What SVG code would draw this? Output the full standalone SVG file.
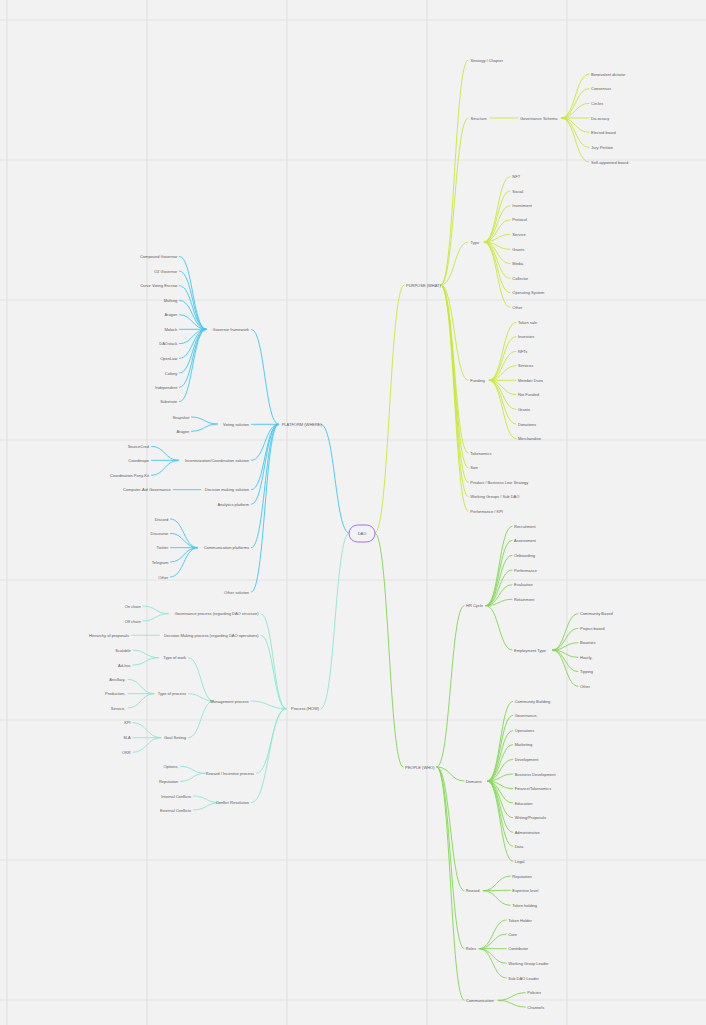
<svg xmlns="http://www.w3.org/2000/svg" width="706" height="1025" viewBox="0 0 706 1025">
<style>
.t{font-family:"Liberation Sans",Arial,sans-serif;font-size:4px;fill:#5a5a5a;dominant-baseline:central}
.e{text-anchor:end}
.grid{stroke:#e1e1e1;stroke-width:1.2}
.cn path{fill:none;stroke-width:0.9;stroke-linecap:round}
.p path{stroke:#c6e934}
.g path{stroke:#7cd94b}
.c path{stroke:#3cc6f5}
.m path{stroke:#86e9d2}
</style>
<rect width="706" height="1025" fill="#f2f2f2"/>
<g id="grid" class="grid">
<line x1="7" y1="0" x2="7" y2="1025"/><line x1="147" y1="0" x2="147" y2="1025"/><line x1="287" y1="0" x2="287" y2="1025"/><line x1="427" y1="0" x2="427" y2="1025"/><line x1="567" y1="0" x2="567" y2="1025"/>
<line x1="0" y1="20" x2="706" y2="20"/><line x1="0" y1="160" x2="706" y2="160"/><line x1="0" y1="300" x2="706" y2="300"/><line x1="0" y1="440" x2="706" y2="440"/><line x1="0" y1="580" x2="706" y2="580"/><line x1="0" y1="720" x2="706" y2="720"/><line x1="0" y1="860" x2="706" y2="860"/><line x1="0" y1="1000" x2="706" y2="1000"/>
</g>
<g id="connectors" class="cn">
<g class="p">
<path d="M375 533C389.5 533 389.5 285 404 285"/>
<path d="M441 285C454.5 285 454.5 60 468 60"/>
<path d="M441 285C454.5 285 454.5 118 468 118"/>
<path d="M441 285C454.5 285 454.5 242 468 242"/>
<path d="M441 285C454.5 285 454.5 380.3 468 380.3"/>
<path d="M441 285C454.5 285 454.5 453 468 453"/>
<path d="M441 285C454.5 285 454.5 467.7 468 467.7"/>
<path d="M441 285C454.5 285 454.5 482.3 468 482.3"/>
<path d="M441 285C454.5 285 454.5 496.7 468 496.7"/>
<path d="M441 285C454.5 285 454.5 511.3 468 511.3"/>
<path d="M490 118H518"/>
<path d="M561.7 118C575.3 118 575.3 74 589 74"/>
<path d="M561.7 118C575.3 118 575.3 88.7 589 88.7"/>
<path d="M561.7 118C575.3 118 575.3 103.3 589 103.3"/>
<path d="M561.7 118H589"/>
<path d="M561.7 118C575.3 118 575.3 132.3 589 132.3"/>
<path d="M561.7 118C575.3 118 575.3 147.3 589 147.3"/>
<path d="M561.7 118C575.3 118 575.3 162 589 162"/>
<path d="M484.3 242C497.2 242 497.2 176.7 510 176.7"/>
<path d="M484.3 242C497.2 242 497.2 191 510 191"/>
<path d="M484.3 242C497.2 242 497.2 205.7 510 205.7"/>
<path d="M484.3 242C497.2 242 497.2 219.7 510 219.7"/>
<path d="M484.3 242C497.2 242 497.2 234.3 510 234.3"/>
<path d="M484.3 242C497.2 242 497.2 249.3 510 249.3"/>
<path d="M484.3 242C497.2 242 497.2 263.7 510 263.7"/>
<path d="M484.3 242C497.2 242 497.2 278.3 510 278.3"/>
<path d="M484.3 242C497.2 242 497.2 292.7 510 292.7"/>
<path d="M484.3 242C497.2 242 497.2 307.3 510 307.3"/>
<path d="M489.3 380.3C502.7 380.3 502.7 322.3 516 322.3"/>
<path d="M489.3 380.3C502.7 380.3 502.7 336.7 516 336.7"/>
<path d="M489.3 380.3C502.7 380.3 502.7 351.3 516 351.3"/>
<path d="M489.3 380.3C502.7 380.3 502.7 365.7 516 365.7"/>
<path d="M489.3 380.3H516"/>
<path d="M489.3 380.3C502.7 380.3 502.7 394.7 516 394.7"/>
<path d="M489.3 380.3C502.7 380.3 502.7 409.3 516 409.3"/>
<path d="M489.3 380.3C502.7 380.3 502.7 424 516 424"/>
<path d="M489.3 380.3C502.7 380.3 502.7 438.7 516 438.7"/>
</g>
<g class="g">
<path d="M375 533C389 533 389 767 403 767"/>
<path d="M437 767C450.5 767 450.5 605.7 464 605.7"/>
<path d="M437 767C450.5 767 450.5 781 464 781"/>
<path d="M437 767C450.5 767 450.5 890.7 464 890.7"/>
<path d="M437 767C450.5 767 450.5 948.7 464 948.7"/>
<path d="M437 767C450.5 767 450.5 1000.3 464 1000.3"/>
<path d="M486 605.7C499 605.7 499 526.3 512 526.3"/>
<path d="M486 605.7C499 605.7 499 540.3 512 540.3"/>
<path d="M486 605.7C499 605.7 499 555.3 512 555.3"/>
<path d="M486 605.7C499 605.7 499 570 512 570"/>
<path d="M486 605.7C499 605.7 499 584.7 512 584.7"/>
<path d="M486 605.7C499 605.7 499 599.3 512 599.3"/>
<path d="M486 605.7C499 605.7 499 650 512 650"/>
<path d="M552.7 650C565.3 650 565.3 613.7 578 613.7"/>
<path d="M552.7 650C565.3 650 565.3 628.3 578 628.3"/>
<path d="M552.7 650C565.3 650 565.3 642.7 578 642.7"/>
<path d="M552.7 650C565.3 650 565.3 657.3 578 657.3"/>
<path d="M552.7 650C565.3 650 565.3 671.7 578 671.7"/>
<path d="M552.7 650C565.3 650 565.3 686.3 578 686.3"/>
<path d="M487.7 781C500.2 781 500.2 701.3 512.7 701.3"/>
<path d="M487.7 781C500.2 781 500.2 715.3 512.7 715.3"/>
<path d="M487.7 781C500.2 781 500.2 730.7 512.7 730.7"/>
<path d="M487.7 781C500.2 781 500.2 744.7 512.7 744.7"/>
<path d="M487.7 781C500.2 781 500.2 759.3 512.7 759.3"/>
<path d="M487.7 781C500.2 781 500.2 774 512.7 774"/>
<path d="M487.7 781C500.2 781 500.2 788.7 512.7 788.7"/>
<path d="M487.7 781C500.2 781 500.2 803 512.7 803"/>
<path d="M487.7 781C500.2 781 500.2 817.7 512.7 817.7"/>
<path d="M487.7 781C500.2 781 500.2 832.3 512.7 832.3"/>
<path d="M487.7 781C500.2 781 500.2 846.3 512.7 846.3"/>
<path d="M487.7 781C500.2 781 500.2 861.3 512.7 861.3"/>
<path d="M483.3 890.7C496.8 890.7 496.8 876 510.3 876"/>
<path d="M483.3 890.7C496.8 890.7 496.8 890.3 510.3 890.3"/>
<path d="M483.3 890.7C496.8 890.7 496.8 905.3 510.3 905.3"/>
<path d="M479.3 948.7C492.8 948.7 492.8 920 506.3 920"/>
<path d="M479.3 948.7C492.8 948.7 492.8 934 506.3 934"/>
<path d="M479.3 948.7H506.3"/>
<path d="M479.3 948.7C492.8 948.7 492.8 963.3 506.3 963.3"/>
<path d="M479.3 948.7C492.8 948.7 492.8 978 506.3 978"/>
<path d="M498.3 1000.3C511.8 1000.3 511.8 992.7 525.3 992.7"/>
<path d="M498.3 1000.3C511.8 1000.3 511.8 1007 525.3 1007"/>
</g>
<g class="c">
<path d="M349 533C335 533 335 424.3 321 424.3"/>
<path d="M278.3 424.3C264.9 424.3 264.9 329.3 251.5 329.3"/>
<path d="M278.3 424.3H251.5"/>
<path d="M278.3 424.3C264.9 424.3 264.9 460.3 251.5 460.3"/>
<path d="M278.3 424.3C264.9 424.3 264.9 489.7 251.5 489.7"/>
<path d="M278.3 424.3C264.9 424.3 264.9 504.3 251.5 504.3"/>
<path d="M278.3 424.3C264.9 424.3 264.9 547.7 251.5 547.7"/>
<path d="M278.3 424.3C264.9 424.3 264.9 592 251.5 592"/>
<path d="M206 329.3C192.7 329.3 192.7 256.3 179.5 256.3"/>
<path d="M206 329.3C192.7 329.3 192.7 271 179.5 271"/>
<path d="M206 329.3C192.7 329.3 192.7 285.7 179.5 285.7"/>
<path d="M206 329.3C192.7 329.3 192.7 300.3 179.5 300.3"/>
<path d="M206 329.3C192.7 329.3 192.7 314.7 179.5 314.7"/>
<path d="M206 329.3H179.5"/>
<path d="M206 329.3C192.7 329.3 192.7 343.7 179.5 343.7"/>
<path d="M206 329.3C192.7 329.3 192.7 358.3 179.5 358.3"/>
<path d="M206 329.3C192.7 329.3 192.7 373 179.5 373"/>
<path d="M206 329.3C192.7 329.3 192.7 387.3 179.5 387.3"/>
<path d="M206 329.3C192.7 329.3 192.7 401.7 179.5 401.7"/>
<path d="M217.3 424C204.4 424 204.4 417 191.5 417"/>
<path d="M217.3 424C204.4 424 204.4 431.3 191.5 431.3"/>
<path d="M178.3 460.3C164.9 460.3 164.9 446.3 151.5 446.3"/>
<path d="M178.3 460.3H151.5"/>
<path d="M178.3 460.3C164.9 460.3 164.9 475.3 151.5 475.3"/>
<path d="M200.7 489.7H173.3"/>
<path d="M197.3 547.7C183.9 547.7 183.9 519 170.5 519"/>
<path d="M197.3 547.7C183.9 547.7 183.9 533.3 170.5 533.3"/>
<path d="M197.3 547.7H170.5"/>
<path d="M197.3 547.7C183.9 547.7 183.9 562 170.5 562"/>
<path d="M197.3 547.7C183.9 547.7 183.9 577 170.5 577"/>
</g>
<g class="m">
<path d="M349 533C335 533 335 708.7 321 708.7"/>
<path d="M286 708.7C273.5 708.7 273.5 613.7 261 613.7"/>
<path d="M286 708.7C273.5 708.7 273.5 635.3 261 635.3"/>
<path d="M286 708.7C268.5 708.7 268.5 701 251 701"/>
<path d="M286 708.7C271.2 708.7 271.2 773.3 256.5 773.3"/>
<path d="M286 708.7C268.8 708.7 268.8 802.7 251.5 802.7"/>
<path d="M168.3 613.7C155.6 613.7 155.6 606 143 606"/>
<path d="M168.3 613.7C155.6 613.7 155.6 621 143 621"/>
<path d="M159.3 635.3H131.5"/>
<path d="M213.3 701C200.9 701 200.9 657.7 188.5 657.7"/>
<path d="M213.3 701C200.9 701 200.9 693.7 188.5 693.7"/>
<path d="M213.3 701C200.9 701 200.9 737.7 188.5 737.7"/>
<path d="M158.3 657.7C145.6 657.7 145.6 650 133 650"/>
<path d="M158.3 657.7C145.6 657.7 145.6 665 133 665"/>
<path d="M154 693.7C141 693.7 141 679.3 128 679.3"/>
<path d="M154 693.7H128"/>
<path d="M154 693.7C141 693.7 141 708 128 708"/>
<path d="M160.7 737.7C146.8 737.7 146.8 722.7 133 722.7"/>
<path d="M160.7 737.7H133"/>
<path d="M160.7 737.7C146.8 737.7 146.8 752.3 133 752.3"/>
<path d="M205 773.3C192.7 773.3 192.7 766.3 180.5 766.3"/>
<path d="M205 773.3C192.7 773.3 192.7 781.3 180.5 781.3"/>
<path d="M219.3 802.7C206.4 802.7 206.4 796 193.5 796"/>
<path d="M219.3 802.7C206.4 802.7 206.4 810 193.5 810"/>
</g>
</g>
<g id="n-dao"><rect x="349" y="525" width="26" height="17" rx="8.5" fill="none" stroke="#a46cf5" stroke-width="1"/><text class="t" x="362" y="533.5" text-anchor="middle">DAO</text></g>
<g id="n-purpose"><text class="t" x="406" y="285">PURPOSE (WHAT)</text></g>
<g id="n-strategy"><text class="t" x="470.5" y="60">Strategy / Chapter</text></g>
<g id="n-structure"><text class="t" x="470.5" y="118">Structure</text></g>
<g id="n-gov-schema"><text class="t" x="520" y="118">Governance Schema</text></g>
<g id="n-gs1"><text class="t" x="591" y="74">Benevolent dictator</text></g>
<g id="n-gs2"><text class="t" x="591" y="88.7">Consensus</text></g>
<g id="n-gs3"><text class="t" x="591" y="103.3">Circles</text></g>
<g id="n-gs4"><text class="t" x="591" y="118">Do-ocracy</text></g>
<g id="n-gs5"><text class="t" x="591" y="132.3">Elected board</text></g>
<g id="n-gs6"><text class="t" x="591" y="147.3">Jury Petition</text></g>
<g id="n-gs7"><text class="t" x="591" y="162">Self-appointed board</text></g>
<g id="n-type"><text class="t" x="470.5" y="242">Type</text></g>
<g id="n-ty1"><text class="t" x="512.3" y="176.7">NFT</text></g>
<g id="n-ty2"><text class="t" x="512.3" y="191">Social</text></g>
<g id="n-ty3"><text class="t" x="512.3" y="205.7">Investment</text></g>
<g id="n-ty4"><text class="t" x="512.3" y="219.7">Protocol</text></g>
<g id="n-ty5"><text class="t" x="512.3" y="234.3">Service</text></g>
<g id="n-ty6"><text class="t" x="512.3" y="249.3">Grants</text></g>
<g id="n-ty7"><text class="t" x="512.3" y="263.7">Media</text></g>
<g id="n-ty8"><text class="t" x="512.3" y="278.3">Collector</text></g>
<g id="n-ty9"><text class="t" x="512.3" y="292.7">Operating System</text></g>
<g id="n-ty10"><text class="t" x="512.3" y="307.3">Other</text></g>
<g id="n-funding"><text class="t" x="470.3" y="380.3">Funding</text></g>
<g id="n-fu1"><text class="t" x="518" y="322.3">Token sale</text></g>
<g id="n-fu2"><text class="t" x="518" y="336.7">Investors</text></g>
<g id="n-fu3"><text class="t" x="518" y="351.3">NFTs</text></g>
<g id="n-fu4"><text class="t" x="518" y="365.7">Services</text></g>
<g id="n-fu5"><text class="t" x="518" y="380.3">Member Dues</text></g>
<g id="n-fu6"><text class="t" x="518" y="394.7">Not Funded</text></g>
<g id="n-fu7"><text class="t" x="518" y="409.3">Grants</text></g>
<g id="n-fu8"><text class="t" x="518" y="424">Donations</text></g>
<g id="n-fu9"><text class="t" x="518" y="438.7">Merchandise</text></g>
<g id="n-tokenomics"><text class="t" x="470.3" y="453">Tokenomics</text></g>
<g id="n-size"><text class="t" x="470.3" y="467.7">Size</text></g>
<g id="n-product"><text class="t" x="470.3" y="482.3">Product / Business Line Strategy</text></g>
<g id="n-working"><text class="t" x="470.3" y="496.7">Working Groups / Sub DAO</text></g>
<g id="n-performance-kpi"><text class="t" x="470.3" y="511.3">Performance / KPI</text></g>
<g id="n-people"><text class="t" x="405" y="767">PEOPLE (WHO)</text></g>
<g id="n-hr"><text class="t" x="466" y="605.7">HR Cycle</text></g>
<g id="n-hr1"><text class="t" x="514" y="526.3">Recruitment</text></g>
<g id="n-hr2"><text class="t" x="514" y="540.3">Assessment</text></g>
<g id="n-hr3"><text class="t" x="514" y="555.3">Onboarding</text></g>
<g id="n-hr4"><text class="t" x="514" y="570">Performance</text></g>
<g id="n-hr5"><text class="t" x="514" y="584.7">Evaluation</text></g>
<g id="n-hr6"><text class="t" x="514" y="599.3">Retainment</text></g>
<g id="n-emp"><text class="t" x="514" y="650">Employment Type</text></g>
<g id="n-em1"><text class="t" x="580" y="613.7">Community Based</text></g>
<g id="n-em2"><text class="t" x="580" y="628.3">Project based</text></g>
<g id="n-em3"><text class="t" x="580" y="642.7">Bounties</text></g>
<g id="n-em4"><text class="t" x="580" y="657.3">Hourly,</text></g>
<g id="n-em5"><text class="t" x="580" y="671.7">Tipping</text></g>
<g id="n-em6"><text class="t" x="580" y="686.3">Other</text></g>
<g id="n-domains"><text class="t" x="465.7" y="781">Domains</text></g>
<g id="n-do1"><text class="t" x="514.7" y="701.3">Community Building</text></g>
<g id="n-do2"><text class="t" x="514.7" y="715.3">Governance,</text></g>
<g id="n-do3"><text class="t" x="514.7" y="730.7">Operations</text></g>
<g id="n-do4"><text class="t" x="514.7" y="744.7">Marketing</text></g>
<g id="n-do5"><text class="t" x="514.7" y="759.3">Development</text></g>
<g id="n-do6"><text class="t" x="514.7" y="774">Business Development</text></g>
<g id="n-do7"><text class="t" x="514.7" y="788.7">Finance/Tokenomics</text></g>
<g id="n-do8"><text class="t" x="514.7" y="803">Education</text></g>
<g id="n-do9"><text class="t" x="514.7" y="817.7">Writing/Proposals</text></g>
<g id="n-do10"><text class="t" x="514.7" y="832.3">Administrative</text></g>
<g id="n-do11"><text class="t" x="514.7" y="846.3">Data</text></g>
<g id="n-do12"><text class="t" x="514.7" y="861.3">Legal</text></g>
<g id="n-reward"><text class="t" x="465.7" y="890.7">Reward</text></g>
<g id="n-rw1"><text class="t" x="512.3" y="876">Reputation</text></g>
<g id="n-rw2"><text class="t" x="512.3" y="890.3">Expertise level</text></g>
<g id="n-rw3"><text class="t" x="512.3" y="905.3">Token holding</text></g>
<g id="n-roles"><text class="t" x="465.7" y="948.7">Roles</text></g>
<g id="n-ro1"><text class="t" x="508.3" y="920">Token Holder</text></g>
<g id="n-ro2"><text class="t" x="508.3" y="934">Core</text></g>
<g id="n-ro3"><text class="t" x="508.3" y="948.7">Contributor</text></g>
<g id="n-ro4"><text class="t" x="508.3" y="963.3">Working Group Leader</text></g>
<g id="n-ro5"><text class="t" x="508.3" y="978">Sub DAO Leader</text></g>
<g id="n-communication"><text class="t" x="466" y="1000.3">Communication</text></g>
<g id="n-co1"><text class="t" x="527.3" y="992.7">Policies</text></g>
<g id="n-co2"><text class="t" x="527.3" y="1007">Channels</text></g>
<g id="n-platform"><text class="t" x="281.7" y="424.3">PLATFORM (WHERE)</text></g>
<g id="n-governor"><text class="t e" x="249" y="329.3">Governor framework</text></g>
<g id="n-gf1"><text class="t e" x="177.3" y="256.3">Compound Governor</text></g>
<g id="n-gf2"><text class="t e" x="177.3" y="271">OZ Governor</text></g>
<g id="n-gf3"><text class="t e" x="177.3" y="285.7">Curve Voting Escrow</text></g>
<g id="n-gf4"><text class="t e" x="177.3" y="300.3">Multisig</text></g>
<g id="n-gf5"><text class="t e" x="177.3" y="314.7">Aragon</text></g>
<g id="n-gf6"><text class="t e" x="177.3" y="329.3">Moloch</text></g>
<g id="n-gf7"><text class="t e" x="177.3" y="343.7">DAOstack</text></g>
<g id="n-gf8"><text class="t e" x="177.3" y="358.3">OpenLaw</text></g>
<g id="n-gf9"><text class="t e" x="177.3" y="373">Colony</text></g>
<g id="n-gf10"><text class="t e" x="177.3" y="387.3">Independent</text></g>
<g id="n-gf11"><text class="t e" x="177.3" y="401.7">Substrate</text></g>
<g id="n-voting"><text class="t e" x="249" y="424">Voting solution</text></g>
<g id="n-vo1"><text class="t e" x="189.3" y="417">Snapshot</text></g>
<g id="n-vo2"><text class="t e" x="189.3" y="431.3">Aragon</text></g>
<g id="n-incent"><text class="t e" x="249" y="460.3">Incentivization/Coordination solution</text></g>
<g id="n-in1"><text class="t e" x="149" y="446.3">SourceCred</text></g>
<g id="n-in2"><text class="t e" x="149" y="460.3">Coordinape</text></g>
<g id="n-in3"><text class="t e" x="149" y="475.3">Coordination Pony-Kit</text></g>
<g id="n-decision-sol"><text class="t e" x="249" y="489.7">Decision making solution</text></g>
<g id="n-ds1"><text class="t e" x="170.7" y="489.7">Computer-Aid Governance</text></g>
<g id="n-analytics"><text class="t e" x="249" y="504.3">Analytics platform</text></g>
<g id="n-commplat"><text class="t e" x="249" y="547.7">Communication platforms</text></g>
<g id="n-cp1"><text class="t e" x="168.3" y="519">Discord</text></g>
<g id="n-cp2"><text class="t e" x="168.3" y="533.3">Discourse</text></g>
<g id="n-cp3"><text class="t e" x="168.3" y="547.7">Twitter</text></g>
<g id="n-cp4"><text class="t e" x="168.3" y="562">Telegram</text></g>
<g id="n-cp5"><text class="t e" x="168.3" y="577">Other</text></g>
<g id="n-other-sol"><text class="t e" x="249" y="592">Other solution</text></g>
<g id="n-process"><text class="t" x="291" y="708.7">Process (HOW)</text></g>
<g id="n-govproc"><text class="t e" x="258.7" y="613.7">Governance process (regarding DAO structure)</text></g>
<g id="n-gp1"><text class="t e" x="140.7" y="606">On chain</text></g>
<g id="n-gp2"><text class="t e" x="140.7" y="621">Off chain</text></g>
<g id="n-decproc"><text class="t e" x="258.7" y="635.3">Decision Making process (regarding DAO operations)</text></g>
<g id="n-dp1"><text class="t e" x="129" y="635.3">Hierarchy of proposals</text></g>
<g id="n-mgmt"><text class="t e" x="248.7" y="701">Management process</text></g>
<g id="n-tow"><text class="t e" x="186" y="657.7">Type of work</text></g>
<g id="n-tw1"><text class="t e" x="130.7" y="650">Scalable</text></g>
<g id="n-tw2"><text class="t e" x="130.7" y="665">Ad-hoc</text></g>
<g id="n-top"><text class="t e" x="186" y="693.7">Type of process</text></g>
<g id="n-tp1"><text class="t e" x="125.3" y="679.3">Ancillary,</text></g>
<g id="n-tp2"><text class="t e" x="125.3" y="693.7">Production,</text></g>
<g id="n-tp3"><text class="t e" x="125.3" y="708">Service,</text></g>
<g id="n-goal"><text class="t e" x="186" y="737.7">Goal Setting</text></g>
<g id="n-gs-kpi"><text class="t e" x="130.7" y="722.7">KPI</text></g>
<g id="n-gs-sla"><text class="t e" x="130.7" y="737">SLA</text></g>
<g id="n-gs-okr"><text class="t e" x="130.7" y="752.3">OKR</text></g>
<g id="n-rewproc"><text class="t e" x="254" y="773.3">Reward / Incentive process</text></g>
<g id="n-rp1"><text class="t e" x="178.3" y="766.3">Options,</text></g>
<g id="n-rp2"><text class="t e" x="178.3" y="781.3">Reputation</text></g>
<g id="n-conflict"><text class="t e" x="249" y="802.7">Conflict Resolution</text></g>
<g id="n-cr1"><text class="t e" x="191" y="796">Internal Conflicts</text></g>
<g id="n-cr2"><text class="t e" x="191" y="810">External Conflicts</text></g>
</svg>
